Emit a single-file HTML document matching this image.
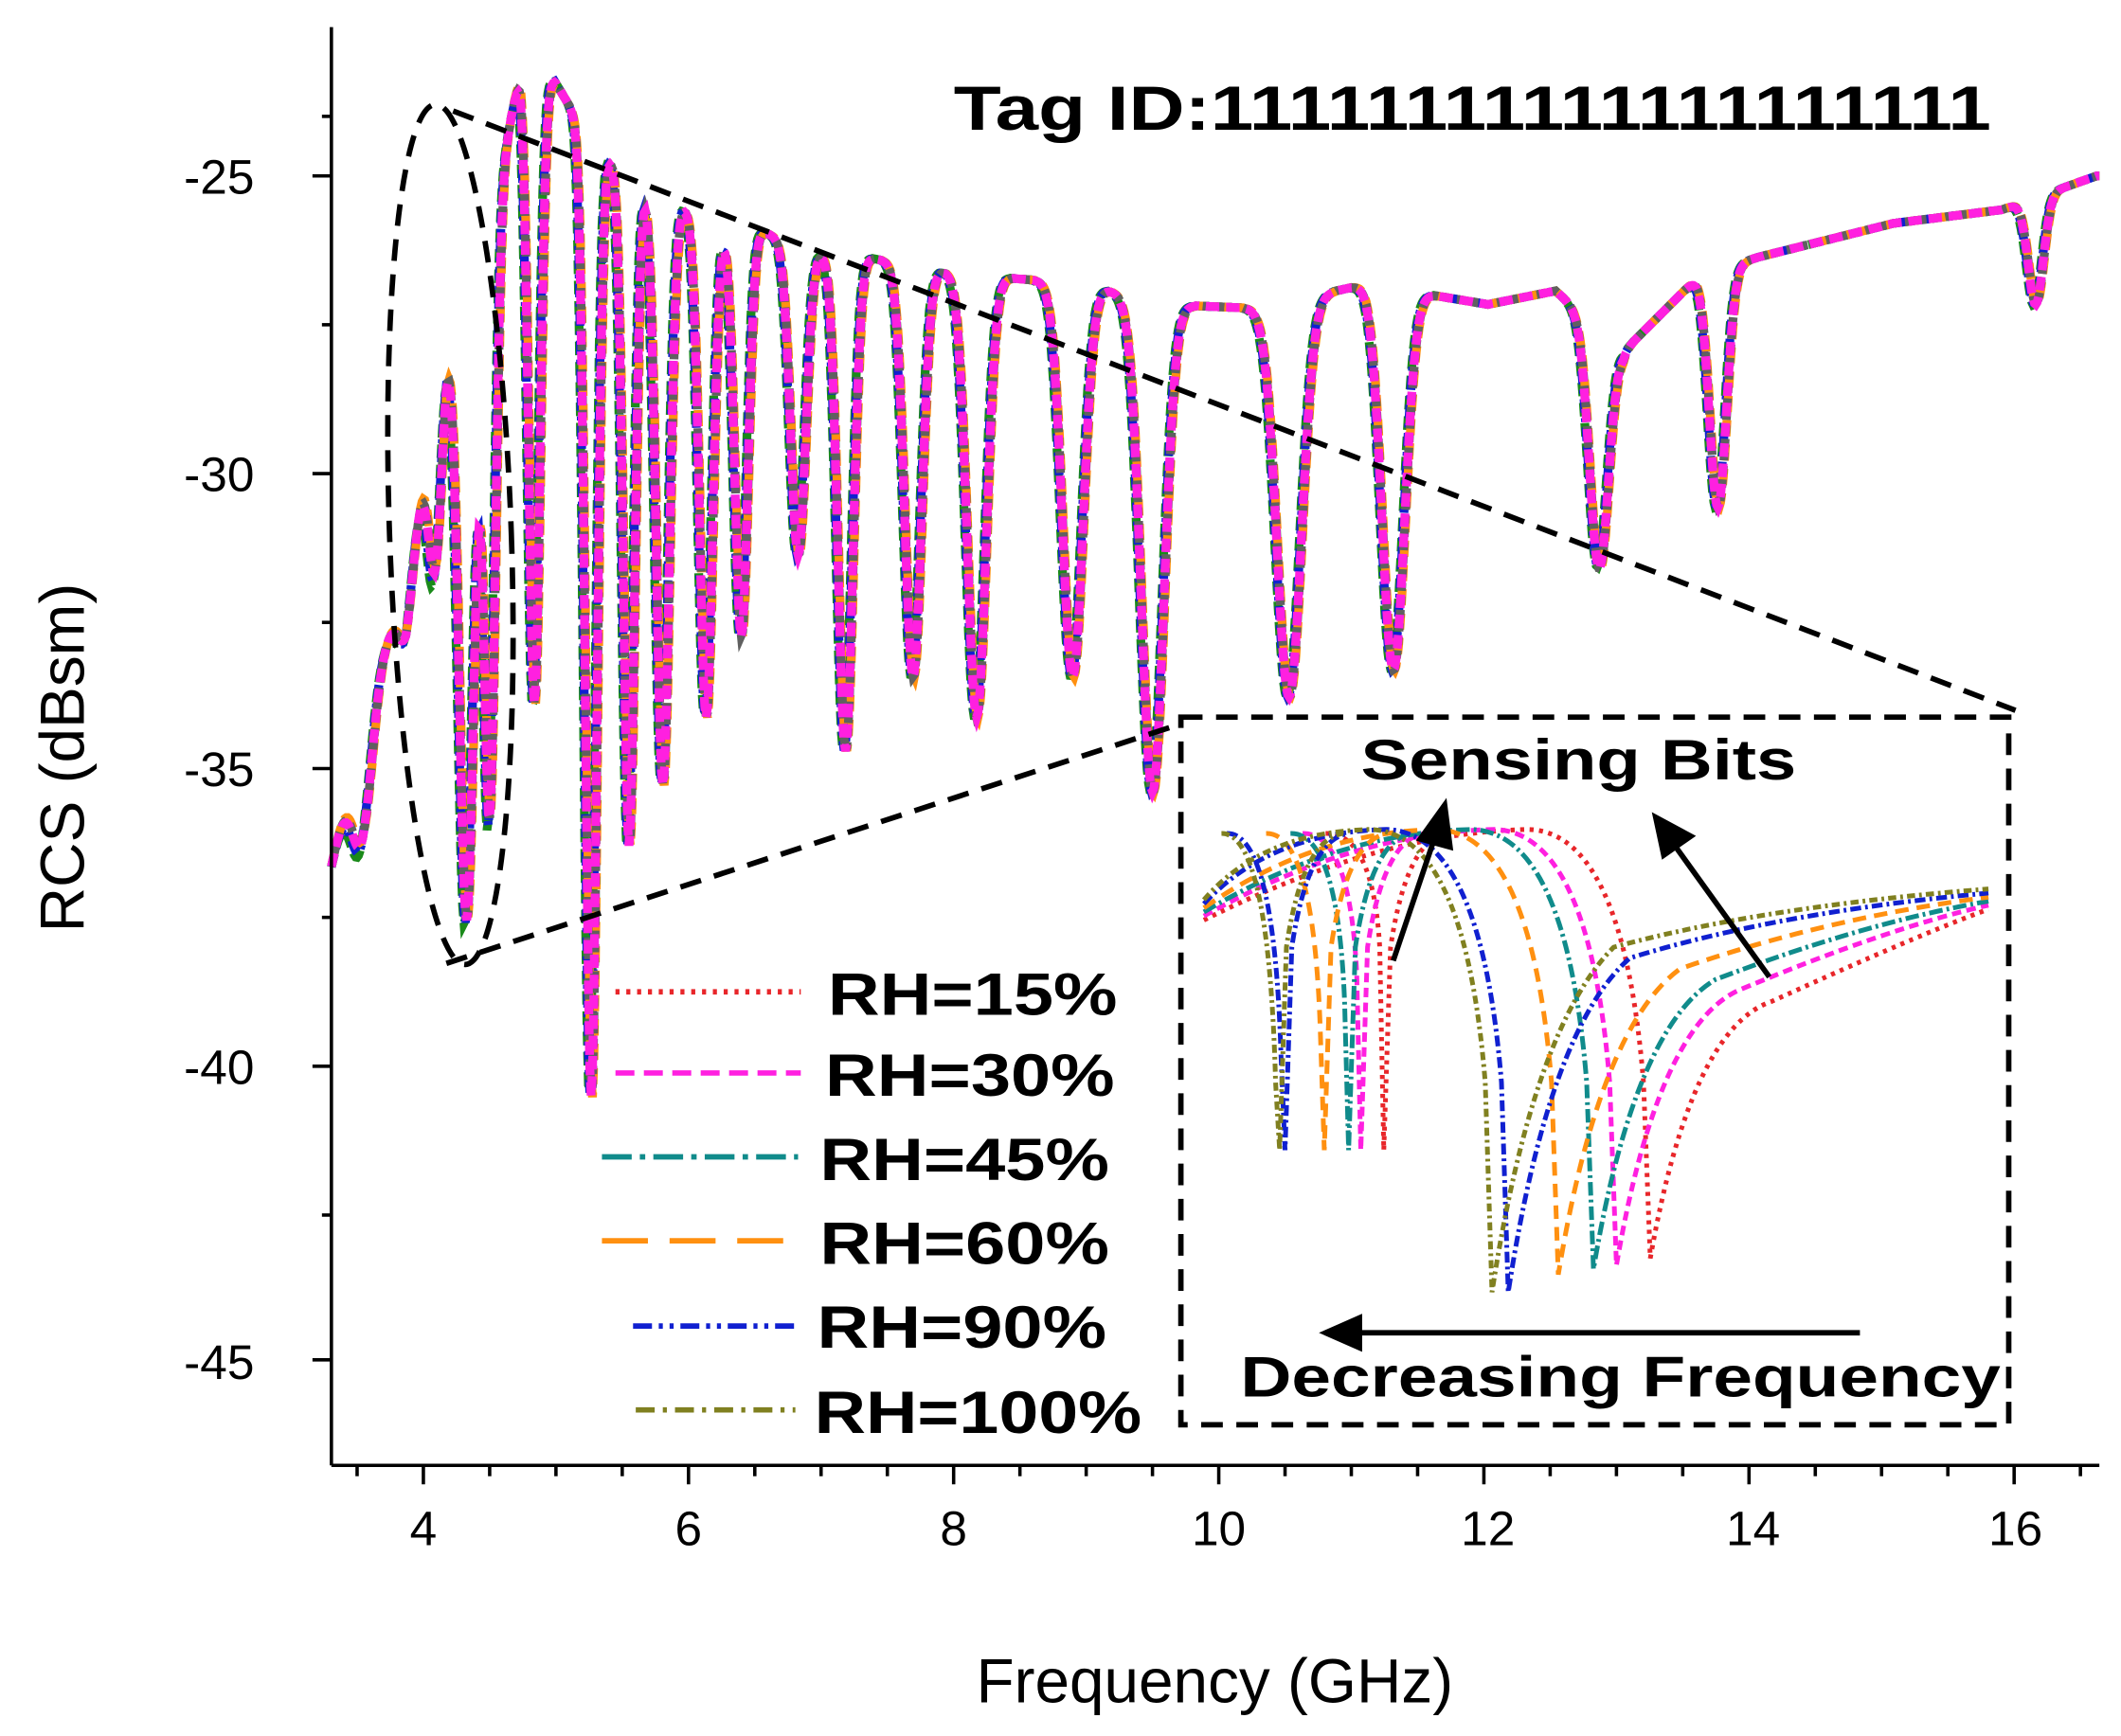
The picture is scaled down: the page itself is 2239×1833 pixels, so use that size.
<!DOCTYPE html>
<html><head><meta charset="utf-8"><style>
html,body{margin:0;padding:0;background:#fff;}
svg{display:block;}
text{font-family:"Liberation Sans",Arial,sans-serif;}
</style></head><body>
<svg id="s" width="2239" height="1833" viewBox="0 0 1568 1283" preserveAspectRatio="none" xmlns="http://www.w3.org/2000/svg">
<rect width="1568" height="1283" fill="#fff"/>
<g id="curves"></g>
<g stroke="#000" stroke-width="2.5" fill="none">
<line x1="245" y1="20" x2="245" y2="1083"/>
<line x1="245" y1="1083" x2="1552" y2="1083"/>
</g>
<g id="ticks" stroke="#000" stroke-width="2.5"></g>
<g font-size="36" fill="#000" text-anchor="middle">
<text x="313" y="1142">4</text><text x="509" y="1142">6</text><text x="705" y="1142">8</text>
<text x="901" y="1142">10</text><text x="1100" y="1142">12</text><text x="1296" y="1142">14</text><text x="1490" y="1142">16</text>
</g>
<g font-size="36" fill="#000" text-anchor="end">
<text x="188" y="143">-25</text><text x="188" y="363">-30</text><text x="188" y="581">-35</text>
<text x="188" y="801">-40</text><text x="188" y="1019">-45</text>
</g>
<text x="898" y="1258" font-size="46" text-anchor="middle">Frequency (GHz)</text>
<text transform="translate(62,560) rotate(-90)" font-size="46" text-anchor="middle">RCS (dBsm)</text>
<text x="705" y="96" font-size="46" font-weight="bold" textLength="767" lengthAdjust="spacingAndGlyphs">Tag ID:11111111111111111111</text>
<g stroke="#000" stroke-width="4" stroke-dasharray="16,10" fill="none">
<ellipse cx="333" cy="395" rx="45" ry="318" transform="rotate(-2 333 395)"/>
<line x1="335" y1="82" x2="1490" y2="525"/>
<line x1="330" y1="712" x2="873" y2="535"/>
<rect x="873" y="530" width="612" height="523"/>
</g>
<g id="inset"></g>
<g stroke-width="4" fill="none">
<line x1="455" y1="733" x2="592" y2="733" stroke="#e8262a" stroke-dasharray="3,5"/>
<line x1="455" y1="793" x2="592" y2="793" stroke="#ff20e0" stroke-dasharray="14,7"/>
<line x1="445" y1="855" x2="590" y2="855" stroke="#108b8b" stroke-dasharray="22,6,4,6"/>
<line x1="445" y1="917" x2="590" y2="917" stroke="#ff9010" stroke-dasharray="34,16"/>
<line x1="468" y1="980" x2="588" y2="980" stroke="#1020d0" stroke-dasharray="14,5,3,5,3,5"/>
<line x1="470" y1="1042" x2="588" y2="1042" stroke="#808020" stroke-dasharray="14,6,3,6"/>
</g>
<g font-size="44" font-weight="bold" fill="#000">
<text x="612" y="750" textLength="214" lengthAdjust="spacingAndGlyphs">RH=15%</text>
<text x="610" y="810" textLength="214" lengthAdjust="spacingAndGlyphs">RH=30%</text>
<text x="606" y="872" textLength="214" lengthAdjust="spacingAndGlyphs">RH=45%</text>
<text x="606" y="934" textLength="214" lengthAdjust="spacingAndGlyphs">RH=60%</text>
<text x="604" y="996" textLength="214" lengthAdjust="spacingAndGlyphs">RH=90%</text>
<text x="602" y="1059" textLength="242" lengthAdjust="spacingAndGlyphs">RH=100%</text>
</g>
<g font-size="42" font-weight="bold" fill="#000">
<text x="1006" y="576" textLength="322" lengthAdjust="spacingAndGlyphs">Sensing Bits</text>
<text x="917" y="1032" textLength="562" lengthAdjust="spacingAndGlyphs">Decreasing Frequency</text>
</g>
<g stroke="#000" stroke-width="4" fill="#000">
<line x1="1030" y1="710" x2="1062" y2="615"/><polygon points="1068,595 1050,620 1072,626"/>
<line x1="1308" y1="722" x2="1236" y2="622"/><polygon points="1224,604 1230,632 1250,618"/>
<line x1="1375" y1="985" x2="1000" y2="985"/><polygon points="980,985 1005,974 1005,996"/>
</g>
</svg>
<script>
function X(f){return 313+(f-4)*98;}
var t=document.getElementById('ticks'),h='';
for(var f=3.5;f<=16.6;f+=0.5){var x=X(f);var L=(Math.abs(f-Math.round(f/2)*2)<0.01)?14:8;h+='<line x1="'+x+'" y1="1083" x2="'+x+'" y2="'+(1083+L)+'"/>';}
[130,350,568,788,1005].forEach(function(y){h+='<line x1="231" y1="'+y+'" x2="245" y2="'+y+'"/>';});
[86,240,460,678,898].forEach(function(y){h+='<line x1="238" y1="'+y+'" x2="245" y2="'+y+'"/>';});
t.innerHTML=h;
var dips=[[268,620,10],[300,470,8],[322,420,7],[345,680,8],[362,600,6],[395,520,6],[437,810,6],[465,625,6],[490,580,7],[522,530,7],[548,470,7],[590,410,8],[625,555,8],[675,500,9],[722,530,10],[793,500,11],[852,585,12],[953,515,13],[1030,495,12],[1182,420,10],[1270,375,9],[1505,225,8]];
var peaks=[[245,640],[270,520],[300,430],[330,240],[360,180],[385,50],[410,60],[440,110],[470,130],[500,150],[530,165],[560,170],[600,185],[640,190],[690,200],[740,205],[800,210],[860,225],[930,228],[1010,210],[1100,225],[1150,215],[1200,260],[1255,205],[1300,190],[1400,165],[1480,155],[1550,130]];
function env(x){for(var i=0;i<peaks.length-1;i++){if(x<=peaks[i+1][0]){var a=peaks[i],b=peaks[i+1];var r=(x-a[0])/(b[0]-a[0]);return a[1]+r*(b[1]-a[1]);}}return 130;}
function yv(x,sh){var y=env(x);dips.forEach(function(d){var w=d[2]*1.4;var dx=(x-d[0]-sh)/w;var v=Math.exp(-dx*dx*2);var depth=d[1]-env(d[0]);if(v>0.001)y+=depth*v;});return Math.min(y,1080);}
var series=[["#1a8a1a","10,5",-1.5],["#1020d0","10,4,3,4",-0.8],["#ff9010","12,6",0.8],["#606060","6,4",0.3],["#ff20e0","10,5",0]];
var g=document.getElementById('curves'),o='';
series.forEach(function(s){var p='';for(var x=245;x<=1552;x+=1){p+=(x==245?'M':'L')+x+','+yv(x,s[2]).toFixed(1);}o+='<path d="'+p+'" fill="none" stroke="'+s[0]+'" stroke-width="6.5" stroke-dasharray="'+s[1]+'"/>';});
g.innerHTML=o;
var ins=[["#e8262a","3,4",1220,930],["#ff20e0","7,4",1195,935],["#108b8b","10,3,2,3",1178,938],["#ff9010","10,6",1152,942],["#1020d0","8,3,2,3",1115,955],["#808020","6,3,2,3",1103,955]];
var q='';ins.forEach(function(s,i){var c=s[2];var p='M890,'+(680-i*3);
p+=' Q'+(c-200+i*6)+','+(615)+' '+(c-90)+','+(613)+' Q'+(c-20)+','+(615)+' '+(c-5)+','+(800)+' L'+c+','+s[3]+' Q'+(c+30)+','+(760)+' '+(c+90)+','+(740-i*8)+' Q'+(c+200)+','+(690-i*4)+' 1470,'+(672-i*3);
q+='<path d="'+p+'" fill="none" stroke="'+s[0]+'" stroke-width="3.5" stroke-dasharray="'+s[1]+'"/>';
var c2=c-(200-i*8);q+='<path d="M'+(c2-40)+',616 Q'+(c2-5)+',615 '+c2+','+(700+i*20)+' L'+(c2+3)+','+(850)+' L'+(c2+8)+',700 Q'+(c2+20)+',620 '+(c2+50)+',616" fill="none" stroke="'+s[0]+'" stroke-width="3.5" stroke-dasharray="'+s[1]+'"/>';});
document.getElementById('inset').innerHTML=q;
</script>
</body></html>
